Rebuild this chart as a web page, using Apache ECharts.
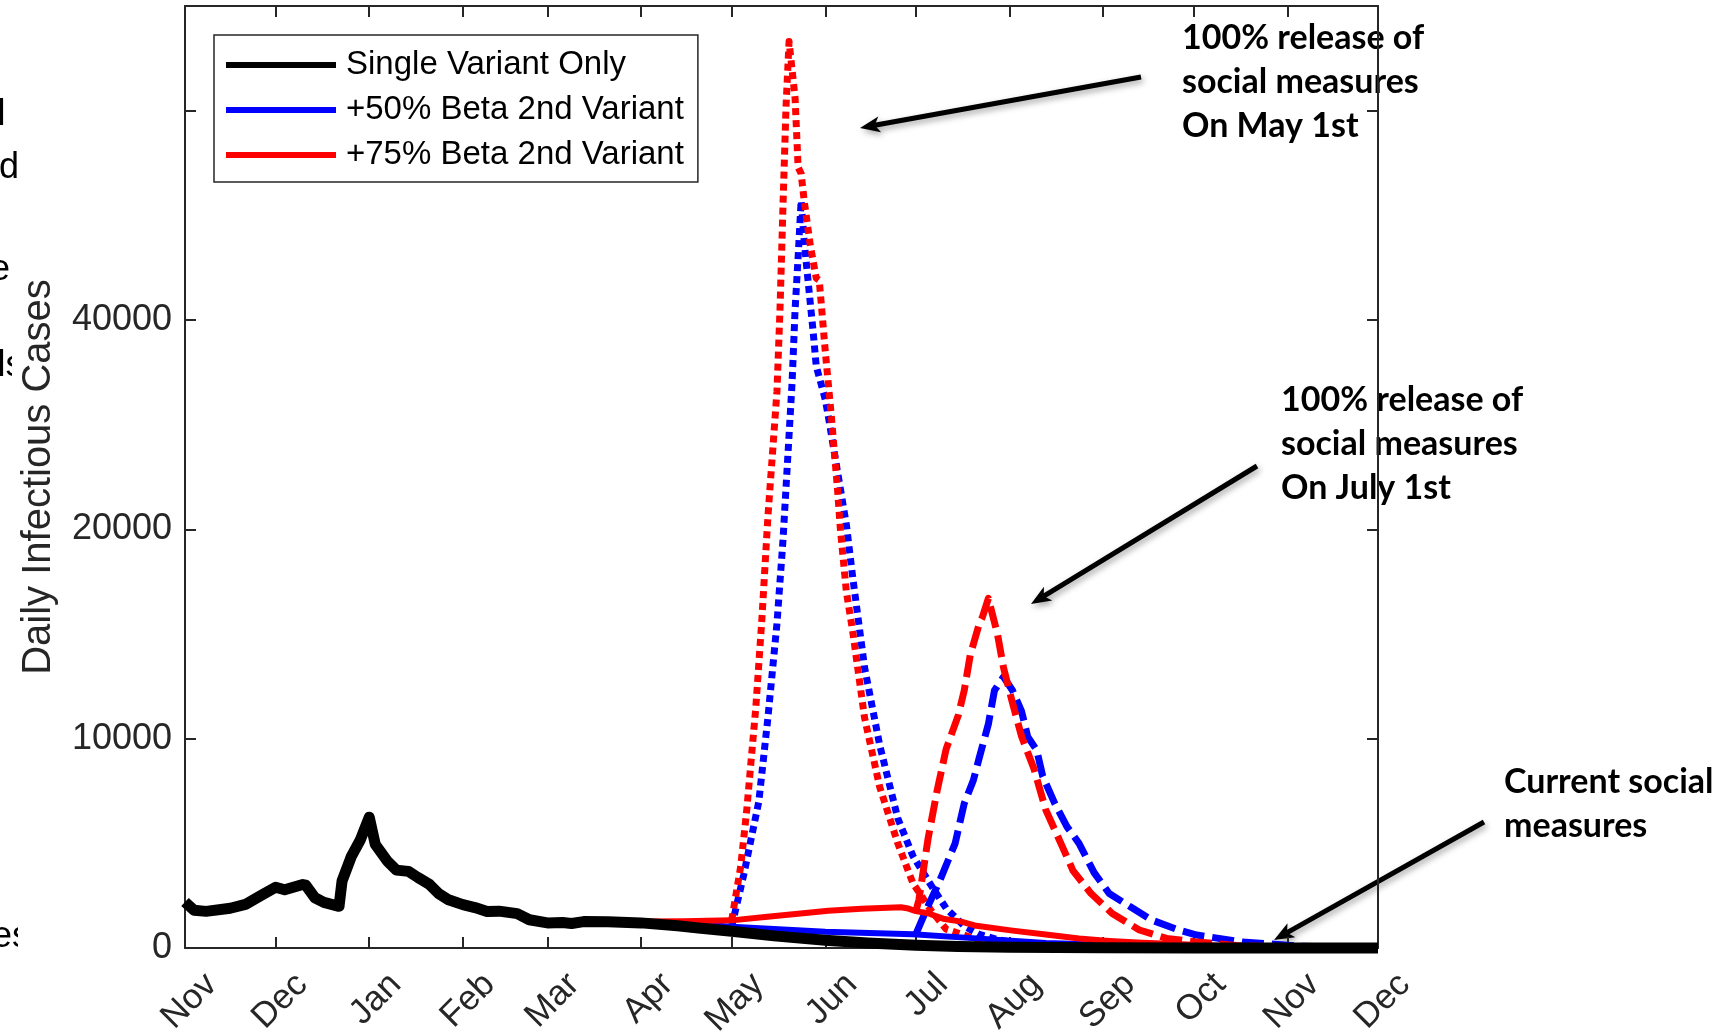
<!DOCTYPE html>
<html>
<head>
<meta charset="utf-8">
<title>Daily Infectious Cases</title>
<script src="https://cdn.jsdelivr.net/npm/echarts@6/dist/echarts.min.js"></script>
<style>
  html, body { margin: 0; padding: 0; background: #fff; }
  #chart { width: 1729px; height: 1034px; }
</style>
</head>
<body>
<div id="chart"></div>
<script>
// tick labels as printed on the figure
const monthNames = ['Jan', 'Feb', 'Mar', 'Apr', 'May', 'Jun', 'Jul', 'Aug', 'Sep', 'Oct', 'Nov', 'Dec'];
const yTickLabels = ['0', '10000', '20000', '40000', ''];
const yInterval = 10000;

const legendNames = ['Single Variant Only', '+50% Beta 2nd Variant', '+75% Beta 2nd Variant'];

// black: single variant only
const singleVariant = [
  ['2020-11-01', 2200], ['2020-11-04', 1800], ['2020-11-08', 1750], ['2020-11-16', 1900],
  ['2020-11-21', 2080], ['2020-11-26', 2500], ['2020-12-01', 2900], ['2020-12-04', 2780],
  ['2020-12-10', 3030], ['2020-12-11', 3000], ['2020-12-14', 2400], ['2020-12-17', 2180],
  ['2020-12-22', 1990], ['2020-12-23', 3200], ['2020-12-26', 4350], ['2020-12-29', 5150],
  ['2021-01-01', 6250], ['2021-01-03', 4950], ['2021-01-07', 4150], ['2021-01-10', 3720],
  ['2021-01-14', 3660], ['2021-01-17', 3380], ['2021-01-21', 3030], ['2021-01-24', 2600],
  ['2021-01-27', 2320], ['2021-02-01', 2070], ['2021-02-05', 1930], ['2021-02-09', 1740],
  ['2021-02-13', 1760], ['2021-02-19', 1640], ['2021-02-23', 1350], ['2021-03-01', 1200],
  ['2021-03-06', 1220], ['2021-03-09', 1170], ['2021-03-13', 1260], ['2021-03-21', 1250],
  ['2021-04-01', 1200], ['2021-04-13', 1060], ['2021-04-20', 960], ['2021-05-01', 800],
  ['2021-05-15', 580], ['2021-06-01', 370], ['2021-06-15', 240], ['2021-07-01', 130],
  ['2021-07-15', 70], ['2021-08-01', 30], ['2021-09-01', 10], ['2021-10-01', 0], ['2021-12-01', 0]
];

// solid lines: current social measures
const beta50Current = [
  ['2021-03-15', 1250], ['2021-04-01', 1220], ['2021-04-20', 1120], ['2021-05-01', 1020],
  ['2021-06-01', 780], ['2021-06-30', 660], ['2021-07-21', 460], ['2021-08-13', 240],
  ['2021-09-01', 150], ['2021-10-01', 60], ['2021-11-01', 20], ['2021-12-01', 10]
];
const beta75Current = [
  ['2021-03-15', 1250], ['2021-04-01', 1260], ['2021-04-15', 1280], ['2021-05-01', 1320],
  ['2021-05-12', 1480], ['2021-05-23', 1640], ['2021-06-02', 1780], ['2021-06-13', 1870],
  ['2021-06-26', 1950], ['2021-06-28', 1900], ['2021-07-01', 1760], ['2021-07-05', 1660],
  ['2021-07-10', 1400], ['2021-07-16', 1260], ['2021-07-21', 1060], ['2021-08-02', 830],
  ['2021-08-13', 640], ['2021-08-24', 450], ['2021-09-03', 340], ['2021-09-14', 250],
  ['2021-10-01', 150], ['2021-10-15', 80], ['2021-11-01', 40], ['2021-12-01', 20]
];

// dotted lines: 100% release on May 1st
const beta50May = [
  ['2021-05-01', 1020], ['2021-05-05', 3500], ['2021-05-10', 7000], ['2021-05-13', 11000],
  ['2021-05-16', 15500], ['2021-05-18', 19500], ['2021-05-20', 24500], ['2021-05-21', 27000],
  ['2021-05-22', 30500], ['2021-05-23', 33000], ['2021-05-24', 35700], ['2021-05-25', 33800],
  ['2021-05-26', 32300], ['2021-05-28', 29400], ['2021-05-29', 27800], ['2021-06-01', 26200],
  ['2021-06-02', 25400], ['2021-06-05', 22800], ['2021-06-08', 20200], ['2021-06-10', 17800],
  ['2021-06-14', 13400], ['2021-06-19', 9700], ['2021-06-25', 6200], ['2021-06-30', 4400],
  ['2021-07-06', 3000], ['2021-07-11', 1900], ['2021-07-17', 1050], ['2021-07-22', 650],
  ['2021-07-28', 400], ['2021-08-03', 250], ['2021-08-15', 80], ['2021-09-01', 20], ['2021-12-01', 0]
];
const beta75May = [
  ['2021-05-01', 1320], ['2021-05-04', 3900], ['2021-05-06', 6600], ['2021-05-09', 11500],
  ['2021-05-11', 15700], ['2021-05-13', 20600], ['2021-05-16', 26600], ['2021-05-17', 30500],
  ['2021-05-18', 35500], ['2021-05-19', 40200], ['2021-05-20', 43300], ['2021-05-22', 40600],
  ['2021-05-23', 37300], ['2021-05-24', 37000], ['2021-05-25', 35700], ['2021-05-27', 33600],
  ['2021-05-29', 32000], ['2021-05-30', 31900], ['2021-06-01', 28500], ['2021-06-03', 25400],
  ['2021-06-05', 22000], ['2021-06-06', 20000], ['2021-06-08', 17000], ['2021-06-10', 15200],
  ['2021-06-14', 11000], ['2021-06-19', 7700], ['2021-06-25', 5000], ['2021-06-30', 3100],
  ['2021-07-06', 1800], ['2021-07-11', 900], ['2021-07-22', 380], ['2021-08-05', 100],
  ['2021-09-01', 20], ['2021-12-01', 0]
];

// dashed lines: 100% release on July 1st
const beta50July = [
  ['2021-07-01', 660], ['2021-07-05', 2000], ['2021-07-09', 3250], ['2021-07-14', 5000],
  ['2021-07-17', 6900], ['2021-07-20', 8000], ['2021-07-22', 9100], ['2021-07-25', 10700],
  ['2021-07-27', 12300], ['2021-07-30', 12950], ['2021-08-02', 12300], ['2021-08-05', 11300],
  ['2021-08-07', 10100], ['2021-08-10', 9450], ['2021-08-12', 8200], ['2021-08-16', 6900],
  ['2021-08-20', 5800], ['2021-08-24', 5000], ['2021-08-29', 3600], ['2021-09-03', 2600],
  ['2021-09-10', 1970], ['2021-09-17', 1340], ['2021-09-26', 860], ['2021-10-02', 620],
  ['2021-10-17', 290], ['2021-10-29', 170], ['2021-11-05', 80], ['2021-12-01', 20]
];
const beta75July = [
  ['2021-07-01', 1760], ['2021-07-02', 2300], ['2021-07-05', 5200], ['2021-07-08', 7500],
  ['2021-07-11', 9500], ['2021-07-15', 11100], ['2021-07-17', 12300], ['2021-07-19', 14000],
  ['2021-07-22', 15500], ['2021-07-23', 15800], ['2021-07-25', 16700], ['2021-07-28', 15000],
  ['2021-07-30', 13400], ['2021-08-02', 11700], ['2021-08-05', 10100], ['2021-08-09', 8600],
  ['2021-08-13', 6600], ['2021-08-18', 5000], ['2021-08-22', 3700], ['2021-08-28', 2600],
  ['2021-09-04', 1650], ['2021-09-13', 860], ['2021-09-22', 460], ['2021-10-01', 300],
  ['2021-10-15', 120], ['2021-11-01', 40], ['2021-12-01', 10]
];

const axisColor = '#262626';
const axisFont = 'Liberation Sans';
const noteFont = 'Lato';

const chart = echarts.init(document.getElementById('chart'));

const makeLine = (name, data, color, width, dash, z) => ({
  name: name,
  type: 'line',
  data: data,
  showSymbol: false,
  symbol: 'none',
  clip: false,
  z: z,
  itemStyle: { color: color },
  lineStyle: { color: color, width: width, type: dash, cap: 'butt', join: 'round' },
  emphasis: { disabled: true }
});

const dotted = [7, 5];
const dashed = [22, 8];

// arrow: a thick line with a notched head and soft shadow
const shadow = { shadowBlur: 6, shadowColor: 'rgba(0,0,0,0.35)', shadowOffsetX: 2, shadowOffsetY: 3 };
const arrow = (tail, tip) => {
  const dx = tip[0] - tail[0];
  const dy = tip[1] - tail[1];
  const len = Math.hypot(dx, dy);
  const ux = dx / len, uy = dy / len;
  const headLen = 20, headHalf = 8;
  const bx = tip[0] - ux * headLen, by = tip[1] - uy * headLen;
  const nx = tip[0] - ux * headLen * 0.75, ny = tip[1] - uy * headLen * 0.75;
  return {
    type: 'group',
    children: [
      {
        type: 'line',
        shape: { x1: tail[0], y1: tail[1], x2: nx, y2: ny },
        style: Object.assign({ stroke: '#000', lineWidth: 5 }, shadow)
      },
      {
        type: 'polygon',
        shape: { points: [tip, [bx - uy * headHalf, by + ux * headHalf], [nx, ny], [bx + uy * headHalf, by - ux * headHalf]] },
        style: Object.assign({ fill: '#000' }, shadow)
      }
    ]
  };
};

const note = (x, y, text) => ({
  type: 'text',
  x: x,
  y: y,
  style: {
    text: text,
    fontFamily: noteFont,
    fontWeight: 'bold',
    fontSize: 34,
    lineHeight: 44,
    fill: '#000',
    align: 'left',
    verticalAlign: 'top'
  }
});

// clipped words of the slide peeking out on the left edge
const fragment = (x, y, text) => ({
  type: 'text',
  x: x,
  y: y,
  z: -2,
  style: { text: text, fontFamily: axisFont, fontSize: 36, fill: '#000', align: 'left', verticalAlign: 'middle' }
});

const timeAxis = (position, showLabel) => ({
  type: 'time',
  position: position,
  min: '2020-11-01',
  max: '2021-12-01',
  splitNumber: 13,
  minInterval: 28 * 24 * 3600 * 1000,
  axisLine: { show: true, onZero: false, lineStyle: { color: axisColor, width: 2 } },
  axisTick: { show: true, inside: true, length: 11, lineStyle: { color: axisColor, width: 2 } },
  splitLine: { show: false },
  axisLabel: {
    show: showLabel,
    rotate: 45,
    fontSize: 35,
    fontFamily: axisFont,
    color: axisColor,
    margin: 33,
    align: 'right',
    verticalAlign: 'top',
    padding: [0, -20, 0, 0],
    showMinLabel: true,
    showMaxLabel: true,
    hideOverlap: false,
    formatter: (v) => monthNames[new Date(v).getMonth()]
  }
});

const valueAxis = (position, showLabel) => ({
  type: 'value',
  position: position,
  min: 0,
  max: 45000,
  interval: yInterval,
  axisLine: { show: true, onZero: false, lineStyle: { color: axisColor, width: 2 } },
  axisTick: { show: true, inside: true, length: 11, lineStyle: { color: axisColor, width: 2 } },
  splitLine: { show: false },
  axisLabel: {
    show: showLabel,
    fontSize: 36,
    fontFamily: axisFont,
    color: axisColor,
    margin: 13,
    showMaxLabel: false,
    formatter: (v) => {
      const i = v / yInterval;
      return Number.isInteger(i) && i < yTickLabels.length ? yTickLabels[i] : '';
    }
  }
});

const yLeft = valueAxis('left', true);
yLeft.name = 'Daily Infectious Cases';
yLeft.nameLocation = 'middle';
yLeft.nameRotate = 90;
yLeft.nameGap = 126;
yLeft.nameTextStyle = { fontSize: 40, fontFamily: axisFont, color: axisColor };

const option = {
  backgroundColor: '#fff',
  animation: false,
  grid: { left: 185, right: 351, top: 6, bottom: 86, containLabel: false, outerBoundsMode: 'none' },
  xAxis: [timeAxis('bottom', true), timeAxis('top', false)],
  yAxis: [yLeft, valueAxis('right', false)],
  legend: {
    data: legendNames,
    orient: 'vertical',
    left: 214,
    top: 35,
    icon: 'rect',
    itemWidth: 110,
    itemHeight: 6,
    itemGap: 11,
    padding: [13, 14, 10, 12],
    borderColor: axisColor,
    borderWidth: 1.5,
    backgroundColor: '#fff',
    selectedMode: false,
    itemStyle: { borderWidth: 0 },
    textStyle: { fontSize: 33, fontFamily: axisFont, color: '#000', lineHeight: 34, padding: [0, 0, 0, 5] }
  },
  series: [
    makeLine(legendNames[0], singleVariant, '#000000', 11, 'solid', 6),
    makeLine(legendNames[1], beta50Current, '#0000ff', 6, 'solid', 5),
    makeLine(legendNames[2], beta75Current, '#ff0000', 6, 'solid', 5),
    makeLine(legendNames[1], beta50May, '#0000ff', 7, dotted, 3),
    makeLine(legendNames[2], beta75May, '#ff0000', 7, dotted, 3),
    makeLine(legendNames[1], beta50July, '#0000ff', 7, dashed, 4),
    makeLine(legendNames[2], beta75July, '#ff0000', 7, dashed, 4)
  ],
  graphic: {
    elements: [
      fragment(-2.5, 115, 'l'),
      fragment(-1, 168, 'd'),
      fragment(-10, 270, 'e'),
      fragment(-2.5, 366, 'ls'),
      fragment(-8, 937, 'es'),
      { type: 'rect', z: -1, shape: { x: 12, y: 340, width: 40, height: 50 }, style: { fill: '#fff' } },
      { type: 'rect', z: -1, shape: { x: 18, y: 915, width: 40, height: 45 }, style: { fill: '#fff' } },
      note(1182, 16, '100% release of\nsocial measures\nOn May 1st'),
      note(1281, 378, '100% release of\nsocial measures\nOn July 1st'),
      note(1504, 760, 'Current social\nmeasures'),
      arrow([1141, 77], [860, 128]),
      arrow([1257, 466], [1031, 604]),
      arrow([1484, 822], [1274, 940])
    ]
  }
};

chart.setOption(option);
window.addEventListener('resize', () => chart.resize());
</script>
</body>
</html>
